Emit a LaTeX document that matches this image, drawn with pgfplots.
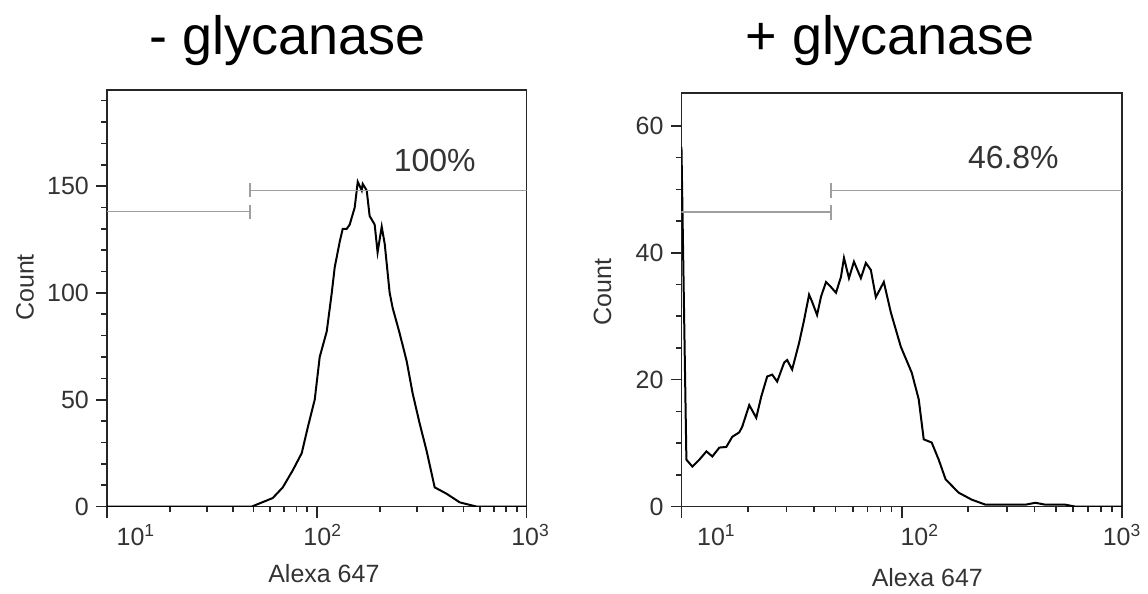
\documentclass[border=0pt]{standalone}
\usepackage{fontspec}
\setmainfont{Liberation Sans}
\usepackage{pgfplots}
\usepackage{pgfplotstable}
\pgfplotsset{compat=1.18}

% histogram, no glycanase
\pgfplotstableread{
x count
10 0
49.0 0
61.7 4
68.9 9
76.9 17
84.8 25
90.6 37
97.8 50
103.3 70
111.6 82
117.9 100
121.8 112
128.7 124
133.0 130
139.0 130
143.6 132
151.7 140
156.8 152
163.8 148
165.6 151
173.0 148
178.7 136
188.8 132
195.0 119
204.0 131
210.8 123
222.6 100
230.0 93
248.5 81
268.4 68
286.4 53
309.2 39
334.0 26
364.8 9
416 6
479.7 2
578 0
1000 0
}\minusdata

% histogram, with glycanase
\pgfplotstableread{
x count
10.0 56.7
10.53 7.4
11.21 6.3
12.06 7.4
12.98 8.7
13.81 7.9
14.86 9.3
15.98 9.4
17.01 11
18.30 11.7
18.88 12.6
20.31 16
21.85 14
23.01 17.3
24.50 20.5
25.81 20.8
27.19 19.7
29.25 22.7
30.18 23.1
31.80 21.6
34.20 25.8
36.03 29.4
37.96 33.4
39.16 32.3
41.26 30.2
43.01 33.1
45.31 35.4
47.73 34.6
50.28 33.7
52.97 36.2
54.66 39.2
57.58 36
60.66 38.6
65.22 36
68.71 38.4
72.39 37.3
76.27 33
82.9 35.4
89.2 30.6
99.0 25.2
111.0 21.1
119.4 16.9
125.8 10.6
136.7 10.1
147.1 7.4
158.1 4.3
181.1 2.2
207.4 1.1
240.0 0.3
274.8 0.3
364.0 0.3
404.0 0.6
448.4 0.3
552.3 0.3
612.9 0
1000 0
}\plusdata

\pgfplotsset{
  flowaxis/.style={
    scale only axis, anchor=south west,
    xmin=10, xmax=1000,
    axis line style={line width=0.9pt, black!85},
    tick style={line width=0.8pt, black!85},
    tick align=outside, xtick pos=bottom, ytick pos=left,
    major tick length=5.5pt, minor tick length=2.8pt,
    xtick={10,100,1000},
    minor xtick={20,30,40,50,60,70,80,90,200,300,400,500,600,700,800,900},
    tick label style={font=\fontsize{12.5}{15}\selectfont, text=black!80},
    label style={font=\fontsize{12.5}{15}\selectfont, text=black!80},
    /pgf/number format/assume math mode=true,
    xlabel={Alexa 647}, ylabel={Count},
  },
  hist/.style={black, line width=1pt, no marks},
  gate/.style={gray!75, line width=0.7pt, no marks},
}

\begin{document}
\begin{tikzpicture}
\path (0,0) rectangle (574pt,297pt);

\begin{semilogxaxis}[flowaxis,
    at={(53.5pt,43.5pt)}, width=210pt, height=208.5pt,
    ymin=0, ymax=195,
    ytick={0,50,100,150},
    minor ytick={10,20,30,40,60,70,80,90,110,120,130,140,160,170,180,190},
    xticklabels={\hspace*{29pt}10\textsuperscript{1},\hspace*{6pt}10\textsuperscript{2},\hspace*{4pt}10\textsuperscript{3}},
    xlabel style={at={(axis description cs:0.517,-0.182)}, anchor=base},
    ylabel style={at={(axis description cs:-0.195,0.526)}, anchor=center},
  ]
  \addplot[hist] table[x=x, y=count] {\minusdata};
  % gates
  \addplot[gate] coordinates {(10,138) (48,138)};
  \addplot[gate] coordinates {(48,134.7) (48,141.3)};
  \addplot[gate] coordinates {(48,148) (1000,148)};
  \addplot[gate] coordinates {(48,144.7) (48,151.3)};
  \node[font=\fontsize{16}{18}\selectfont, text=black!80] at (axis cs:365,162) {100\%};
\end{semilogxaxis}

\begin{semilogxaxis}[flowaxis,
    at={(341pt,43.5pt)}, width=220.5pt, height=207pt,
    ymin=0, ymax=65.2,
    ytick={0,20,40,60},
    minor ytick={5,10,15,25,30,35,45,50,55},
    xticklabels={\hspace*{35pt}10\textsuperscript{1},\hspace*{18pt}10\textsuperscript{2},10\textsuperscript{3}},
    xlabel style={at={(axis description cs:0.558,-0.193)}, anchor=base},
    ylabel style={at={(axis description cs:-0.179,0.519)}, anchor=center},
  ]
  \addplot[hist] table[x=x, y=count] {\plusdata};
  % gates
  \addplot[gate] coordinates {(10,46.4) (47.8,46.4)};
  \addplot[gate] coordinates {(47.8,45.2) (47.8,47.6)};
  \addplot[gate] coordinates {(47.8,49.8) (1000,49.8)};
  \addplot[gate] coordinates {(47.8,48.6) (47.8,51.0)};
  \node[font=\fontsize{16}{18}\selectfont, text=black!80] at (axis cs:321,55) {46.8\%};
\end{semilogxaxis}

\node[font=\fontsize{27}{30}\selectfont, anchor=base] at (144pt,269.5pt) {- glycanase};
\node[font=\fontsize{27}{30}\selectfont, anchor=base] at (445.5pt,269.5pt) {+ glycanase};
\end{tikzpicture}
\end{document}
